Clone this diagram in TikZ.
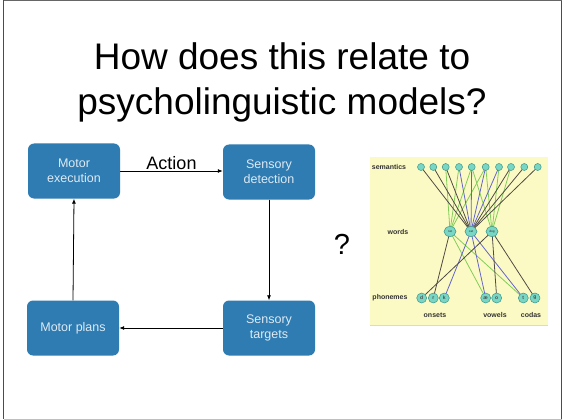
\documentclass[tikz,border=0pt]{standalone}
\usepackage{fontspec}
\setmainfont{Liberation Sans}
\usetikzlibrary{arrows.meta,shapes.geometric}
\definecolor{boxblue}{RGB}{46,124,178}
\definecolor{boxtext}{RGB}{222,234,244}
\definecolor{netbg}{RGB}{252,250,196}
\definecolor{nodefill}{RGB}{120,214,196}
\definecolor{nodeline}{RGB}{60,150,140}
\definecolor{lgreen}{RGB}{130,205,90}
\definecolor{ldark}{RGB}{80,75,70}
\definecolor{lblue}{RGB}{100,100,205}
\tikzset{
  procbox/.style={draw=none, fill=boxblue, rounded corners=6pt, minimum width=92pt, minimum height=55pt,
    text=boxtext, font=\fontsize{12.5}{15}\selectfont, align=center, inner sep=0pt},
  flow/.style={-{Latex[length=5pt,width=4pt]}, line width=0.8pt, black},
  sem/.style={circle, fill=nodefill, draw=nodeline, line width=0.5pt, minimum size=7pt, inner sep=0pt},
  wrd/.style={ellipse, fill=nodefill, draw=nodeline, line width=0.5pt, minimum width=12pt, minimum height=10pt, inner sep=0pt, font=\fontsize{3}{3}\selectfont\bfseries, text=black!70},
  pho/.style={circle, fill=nodefill, draw=nodeline, line width=0.5pt, minimum size=10pt, inner sep=0pt, font=\fontsize{5}{5}\selectfont\bfseries, text=black!70},
  netlbl/.style={font=\fontsize{7}{8}\selectfont\bfseries, text=black!80},
  gl/.style={lgreen, line width=0.8pt},
  dl/.style={ldark, line width=0.8pt},
  bl/.style={lblue, line width=0.8pt},
  title/.style={anchor=base, font=\fontsize{37}{44}\selectfont},
}
\begin{document}
\begin{tikzpicture}[x=1pt,y=-1pt]
\useasboundingbox (0,0) rectangle (563,420);
\fill[white] (0,0) rectangle (563,420);
\draw[black!70, line width=1.3pt] (3.5,0) -- (3.5,419.3);
\draw[black!70, line width=1.3pt] (561.5,0) -- (561.5,419.3);
\draw[black!25, line width=1pt] (3.5,419.3) -- (561.5,419.3);
\draw[black!60, line width=0.8pt] (3.5,0.5) -- (561.5,0.5);

% title
\node[title] (t1) at (282,70) {How does this relate to};
\node[title] (t2) at (282,115) {psycholinguistic models?};

% boxes
\node[procbox] (me) at (74,171) {Motor\\execution};
\node[procbox] (sd) at (269,172) {Sensory\\detection};
\node[procbox] (mp) at (73,328) {Motor plans};
\node[procbox] (st) at (269,328) {Sensory\\targets};

\draw[flow] (me.east) -- (sd.west |- me.east) node[midway, above, font=\fontsize{18}{20}\selectfont, yshift=-2pt] {Action};
\draw[flow] (sd.south) -- (st.north);
\draw[flow] (st.west) -- (mp.east);
\draw[flow] (mp.north) -- (me.south);

\node (q) at (342,244) {\fontsize{29}{32}\selectfont ?};

% network
\fill[netbg] (370,157) rectangle (548,325);
\draw[black!15, line width=0.6pt] (370,325) -- (548,325);
\node[netlbl] (lsem) at (389,167) {semantics};
\node[netlbl] (lwrd) at (398,232) {words};
\node[netlbl] (lpho) at (390,298) {phonemes};
\node[netlbl] (lons) at (435,315) {onsets};
\node[netlbl] (lvow) at (495,315) {vowels};
\node[netlbl] (lcod) at (531,315) {codas};

\foreach \i/\x in {1/421,2/433.3,3/445.7,4/459,5/471.7,6/485.7,7/499,8/511,9/524.3,10/537.7}
  \coordinate (s\i) at (\x,167);
\coordinate (wr) at (450,231.5);
\coordinate (wc) at (471,231.5);
\coordinate (wd) at (492,231.5);
\coordinate (pd) at (421.7,298);
\coordinate (pr) at (433.3,298);
\coordinate (pk) at (444.3,298);
\coordinate (pa) at (485.7,298);
\coordinate (po) at (496.7,298);
\coordinate (pt) at (523.3,298);
\coordinate (pg) at (535,298);

% word-semantic links
\foreach \s in {3,4,5,6} \draw[gl] (wr) -- (s\s);
\foreach \s in {5,6,7,8} \draw[gl] (wd) -- (s\s);
\foreach \s in {1,2,3,8,9,10} \draw[dl] (wc) -- (s\s);
\foreach \s in {4,5,6,7} \draw[bl] (wc) -- (s\s);
% word-phoneme links
\draw[dl] (wr) -- (pr);
\draw[gl] (wr) -- (pa);
\draw[gl] (wr) -- (pt);
\draw[bl] (wc) -- (pk);
\draw[bl] (wc) -- (pa);
\draw[bl] (wc) -- (pt);
\draw[dl] (wd) -- (pd);
\draw[dl] (wd) -- (po);
\draw[dl] (wd) -- (pg);

% nodes
\foreach \i in {1,...,10} \node[sem] (S\i) at (s\i) {};
\node[wrd] (W1) at (wr) {rat};
\node[wrd] (W2) at (wc) {cat};
\node[wrd] (W3) at (wd) {dog};
\node[pho] (P1) at (pd) {d};
\node[pho] (P2) at (pr) {r};
\node[pho] (P3) at (pk) {k};
\node[pho] (P4) at (pa) {æ};
\node[pho] (P5) at (po) {o};
\node[pho] (P6) at (pt) {t};
\node[pho] (P7) at (pg) {g};
\end{tikzpicture}
\end{document}
